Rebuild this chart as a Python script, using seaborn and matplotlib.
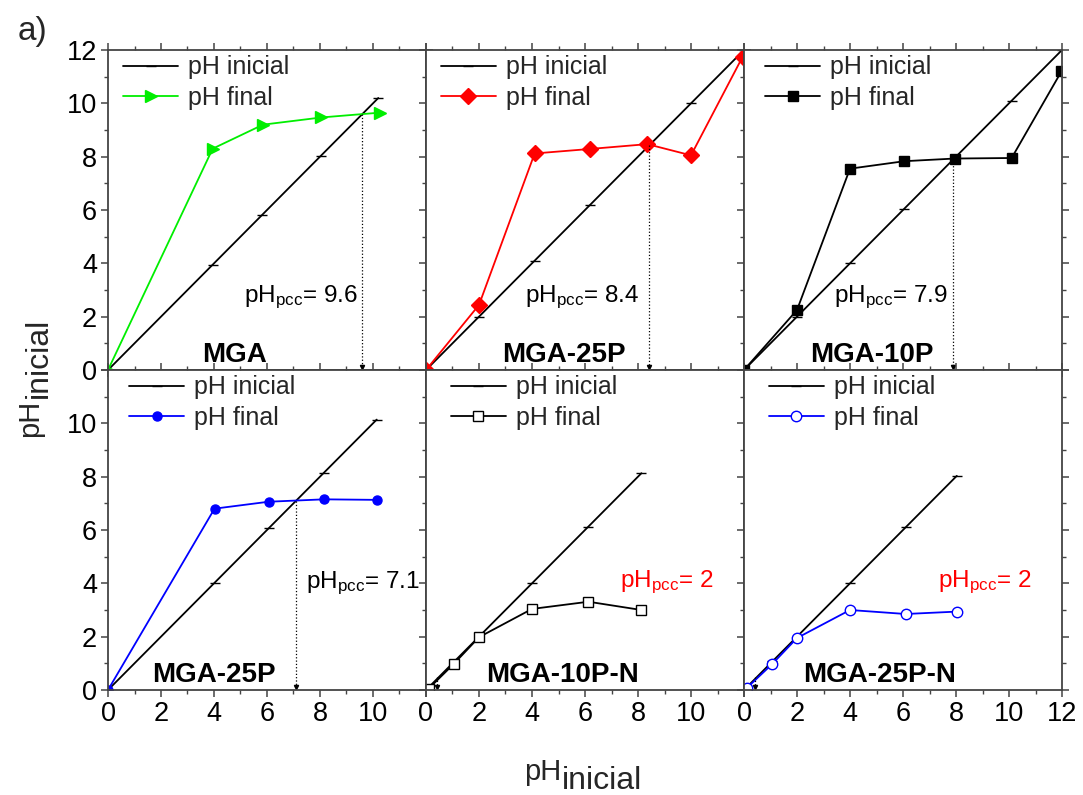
import matplotlib
matplotlib.use("Agg")
import matplotlib.pyplot as plt
import seaborn as sns
import numpy as np

# ---------------- data ----------------
panel_names = ["MGA", "MGA-25P", "MGA-10P", "MGA-25P", "MGA-10P-N", "MGA-25P-N"]

mga_ini = [0, 3.95, 5.83, 8.03, 10.2]
mga_fin_x = [0, 3.95, 5.85, 8.05, 10.25]
mga_fin_y = [0, 8.3, 9.2, 9.47, 9.65]

p25_ini = [0, 2.0, 4.1, 6.2, 8.35, 10.0, 12.0]
p25_fin_x = [0, 2.0, 4.1, 6.2, 8.35, 10.0, 11.95]
p25_fin_y = [0, 2.44, 8.12, 8.29, 8.47, 8.05, 11.75]

p10_ini = [0, 2.0, 4.0, 6.05, 7.95, 10.1, 12.0]
p10_fin_x = [0, 2.0, 4.0, 6.05, 7.95, 10.1, 11.98]
p10_fin_y = [0, 2.25, 7.55, 7.83, 7.93, 7.95, 11.2]

b25_ini = [0, 4.02, 6.06, 8.15, 10.14]
b25_fin_x = [0, 4.02, 6.06, 8.15, 10.14]
b25_fin_y = [0, 6.8, 7.06, 7.15, 7.13]

n10_ini = [0.1, 1.05, 2.0, 4.0, 6.13, 8.13]
n10_fin_x = [0.1, 1.05, 2.0, 4.0, 6.13, 8.13]
n10_fin_y = [0.05, 0.98, 1.98, 3.04, 3.31, 3.0]

n25_ini = [0.1, 1.07, 2.0, 4.0, 6.1, 8.03]
n25_fin_x = [0.1, 1.07, 2.0, 4.0, 6.1, 8.03]
n25_fin_y = [0.07, 0.98, 1.95, 3.0, 2.85, 2.94]

pcc_text = ["9.6", "8.4", "7.9", "7.1", "2", "2"]
pcc_x = [9.6, 8.4, 7.9, 7.1, 0.4, 0.4]
pcc_top = [9.6, 8.45, 7.93, 7.1, 0.5, 0.5]

tick_vals = [0, 2, 4, 6, 8, 10, 12]

# ---------------- style ----------------
sns.set_theme(style="ticks")
plt.rcParams["font.family"] = ["Liberation Sans", "DejaVu Sans"]
plt.rcParams["mathtext.fontset"] = "custom"
plt.rcParams["mathtext.rm"] = "Liberation Sans"
plt.rcParams["mathtext.default"] = "regular"
plt.rcParams["axes.edgecolor"] = "#444444"
plt.rcParams["axes.linewidth"] = 1.3

fig, axes = plt.subplots(2, 3, figsize=(10.83, 7.95), dpi=100)
fig.subplots_adjust(left=108/1083, right=1062/1083, top=1-50/795, bottom=1-690/795,
                    wspace=0, hspace=0)

panels = [
    (mga_ini, mga_fin_x, mga_fin_y, "#00ee00", ">", 9, True),
    (p25_ini, p25_fin_x, p25_fin_y, "#ff0000", "D", 8, True),
    (p10_ini, p10_fin_x, p10_fin_y, "#000000", "s", 7.5, True),
    (b25_ini, b25_fin_x, b25_fin_y, "#0000ff", "o", 6.5, True),
    (n10_ini, n10_fin_x, n10_fin_y, "#000000", "s", 7.5, False),
    (n25_ini, n25_fin_x, n25_fin_y, "#0000ff", "o", 7.5, False),
]

txt_pos = [(5.15, 2.56), (3.74, 2.56), (3.4, 2.56), (7.47, 3.81), (7.31, 3.84), (7.32, 3.84)]
name_pos = [4.77, 5.2, 4.83, 3.99, 5.15, 5.1]
leg_anchor = [(0.0, 1.03), (0.0, 1.03), (0.02, 1.03), (0.02, 1.03), (0.03, 1.03), (0.03, 1.03)]

for i, ax in enumerate(axes.flat):
    ini, fx, fy, col, mk, ms, filled = panels[i]
    sns.lineplot(x=ini, y=ini, ax=ax, color="black", lw=1.3, marker="_", markersize=7,
                 markeredgewidth=1.0, markeredgecolor="black", label="pH inicial",
                 estimator=None, sort=False)
    sns.lineplot(x=fx, y=fy, ax=ax, color=col, lw=1.3, marker=mk, markersize=ms,
                 markerfacecolor=(col if filled else "white"), markeredgecolor=col,
                 markeredgewidth=1.0, label="pH final", estimator=None, sort=False)
    # dotted guide to pHpcc
    ax.plot([pcc_x[i], pcc_x[i]], [pcc_top[i], 0.12], ls=":", lw=0.9, color="black")
    ax.plot([pcc_x[i]], [0.12], marker="v", ms=3, color="black", ls="none")

    tcol = "red" if i >= 4 else "black"
    ax.text(txt_pos[i][0], txt_pos[i][1], r"pH$_{pcc}$= " + pcc_text[i], fontsize=17.5,
            color=tcol, ha="left", va="baseline")
    ax.text(name_pos[i], 0.3, panel_names[i], fontsize=20, fontweight="bold",
            ha="center", va="baseline", color="black")

    ax.legend(loc="upper left", bbox_to_anchor=leg_anchor[i], frameon=False,
              fontsize=18, handlelength=2.2, handletextpad=0.4, labelspacing=0.25,
              borderaxespad=0.2)

    ax.set_xlim(0, 12)
    ax.set_ylim(0, 12)
    ax.set_xticks(tick_vals)
    ax.set_yticks(tick_vals)
    ax.set_xticks(np.arange(1, 12, 2), minor=True)
    ax.set_yticks(np.arange(1, 12, 2), minor=True)
    ax.tick_params(which="major", direction="out", length=5, width=1.1, color="#444444",
                   labelsize=19.5, labelcolor="black", pad=3)
    ax.tick_params(which="minor", direction="out", length=3, width=1.0, color="#444444")
    ax.tick_params(which="both", top=True, right=True)
    ax.set_xlabel("")
    ax.set_ylabel("")
    r, c = divmod(i, 3)
    if r == 0:
        ax.set_xticklabels([])
    else:
        labs = [str(v) for v in tick_vals]
        if c < 2:
            labs[-1] = ""
        ax.set_xticklabels(labs)
    if c > 0:
        ax.set_yticklabels([])
    else:
        labs = [str(v) for v in tick_vals]
        if r == 1:
            labs[-1] = ""
        ax.set_yticklabels(labs)
    for s in ax.spines.values():
        s.set_visible(True)

# axis labels with large subscripts
fig.text(524/1083, 1-780/795, "pH", fontsize=21, ha="left", va="baseline")
fig.text(562/1083, 1-789/795, "inicial", fontsize=23, ha="left", va="baseline")
fig.text(38/1083, 1-437/795, "pH", fontsize=21, rotation=90, rotation_mode="anchor",
         ha="left", va="baseline")
fig.text(47/1083, 1-398/795, "inicial", fontsize=23, rotation=90, rotation_mode="anchor",
         ha="left", va="baseline")
fig.text(18/1083, 1-40/795, "a)", fontsize=24, ha="left", va="baseline")

fig.savefig("out.png", dpi=100)
